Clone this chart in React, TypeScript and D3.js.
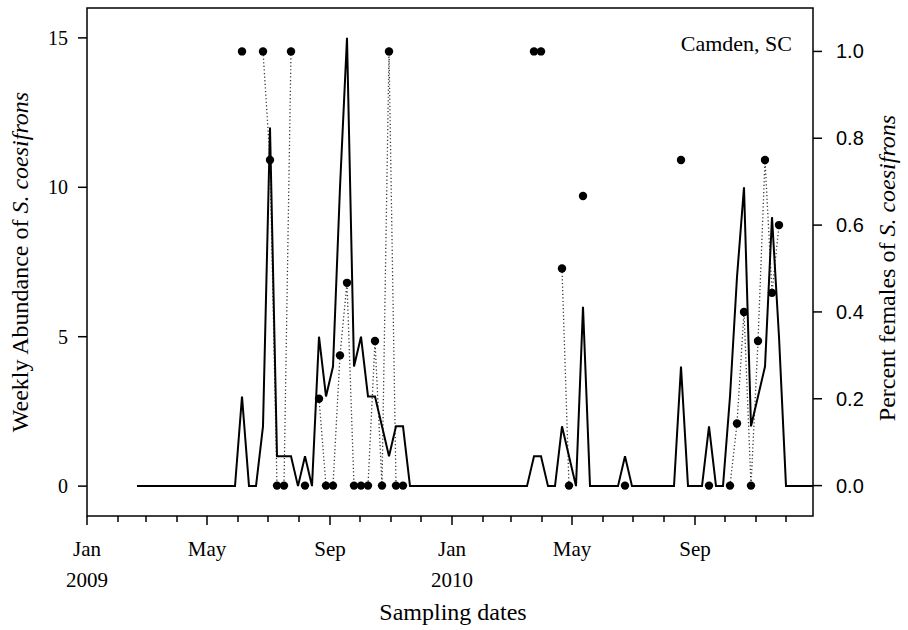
import React from "react";
import * as d3 from "d3";

// ---- Data (weekly samples) ----
const season2009Start = "2009-02-20";
const abundance2009 = [
  0, 0, 0, 0, 0, 0, 0, 0, 0, 0, 0, 0, 0, 0, 0,
  3, 0, 0, 2, 12, 1, 1, 1, 0, 1, 0, 5, 3, 4, 10, 15, 4, 5, 3, 3, 2, 1, 2, 2, 0,
  0, 0, 0, 0, 0, 0,
];
const females2009: (number | null)[] = [
  null, null, null, null, null, null, null, null, null, null, null, null, null, null, null,
  1.0, null, null, 1.0, 0.75, 0, 0, 1.0, null, 0, null, 0.2, 0, 0, 0.3, 0.467, 0, 0, 0, 0.333, 0, 1.0, 0, 0, null,
  null, null, null, null, null, null,
];

const season2010Start = "2010-01-06";
const abundance2010 = [
  0, 0, 0, 0, 0, 0, 0, 0, 0, 0, 0,
  1, 1, 0, 0, 2, 1, 0, 6,
  0, 0, 0, 0, 0,
  1,
  0, 0, 0, 0, 0, 0, 0,
  4, 0, 0, 0, 2, 0, 0,
  3, 7, 10, 2, 3, 4, 9, 5,
  0, 0, 0, 0, 0,
];
const females2010: (number | null)[] = [
  null, null, null, null, null, null, null, null, null, null, null,
  1.0, 1.0, null, null, 0.5, 0, null, 0.667,
  null, null, null, null, null,
  0,
  null, null, null, null, null, null, null,
  0.75, null, null, null, 0, null, null,
  0, 0.143, 0.4, 0, 0.333, 0.75, 0.444, 0.6,
  null, null, null, null, null,
];

const leftTicks = [0, 5, 10, 15];
const rightTicks = [0, 0.2, 0.4, 0.6, 0.8, 1.0];
const majorMonths = [0, 4, 8];

type Sample = { date: Date; abundance: number; female: number | null };

function buildSeason(start: string, ab: number[], fe: (number | null)[]): Sample[] {
  const s = d3.timeParse("%Y-%m-%d")(start) as Date;
  return ab.map((a, i) => ({ date: d3.timeDay.offset(s, 7 * i), abundance: a, female: fe[i] }));
}

const samples: Sample[] = [
  ...buildSeason(season2009Start, abundance2009, females2009),
  ...buildSeason(season2010Start, abundance2010, females2010),
];

export default function App() {
  const W = 908, H = 630;
  const L = 87, R = 813, T = 8, B = 516;
  const x = d3.scaleTime().domain([new Date(2009, 0, 1), new Date(2010, 11, 28)]).range([L, R]);
  const yL = d3.scaleLinear().domain([-1, 16]).range([B, T]);
  const yR = d3.scaleLinear().domain([-0.07, 1.1]).range([B, T]);

  const abLine = d3.line<Sample>().x((d) => x(d.date)).y((d) => yL(d.abundance))(samples) || "";
  const feLine = d3
    .line<Sample>()
    .defined((d) => d.female !== null)
    .x((d) => x(d.date))
    .y((d) => yR(d.female as number))(samples) || "";

  const months = d3.timeMonth.range(new Date(2009, 0, 1), new Date(2010, 11, 29));
  const fmtMonth = d3.timeFormat("%b");
  const serif = "'Liberation Serif', 'Times New Roman', serif";
  const sans = "'Liberation Sans', Arial, sans-serif";

  return (
    <svg width={W} height={H} style={{ position: "absolute", left: 0, top: 0, background: "#fff" }}>
      <defs>
        <clipPath id="plot">
          <rect x={L} y={T} width={R - L} height={B - T} />
        </clipPath>
      </defs>
      <rect x={0} y={0} width={W} height={H} fill="#fff" />
      <g clipPath="url(#plot)">
        <path d={feLine} fill="none" stroke="#333" strokeWidth={1.3} strokeDasharray="1.2 2.4" />
        <path d={abLine} fill="none" stroke="#000" strokeWidth={2} strokeLinejoin="miter" />
        {samples
          .filter((d) => d.female !== null)
          .map((d, i) => (
            <circle key={i} cx={x(d.date)} cy={yR(d.female as number)} r={4.2} fill="#000" />
          ))}
      </g>
      <rect x={L} y={T} width={R - L} height={B - T} fill="none" stroke="#000" strokeWidth={1.5} />

      {/* bottom axis */}
      {months.map((m, i) => {
        const major = majorMonths.includes(m.getMonth());
        const xx = x(m);
        return (
          <g key={i}>
            <line x1={xx} x2={xx} y1={B} y2={B + (major ? 9 : 6)} stroke="#000" strokeWidth={1.5} />
            {major && (
              <text x={xx} y={556} textAnchor="middle" fontFamily={serif} fontSize={21}>
                {fmtMonth(m)}
              </text>
            )}
            {m.getMonth() === 0 && (
              <text x={xx} y={587} textAnchor="middle" fontFamily={serif} fontSize={21}>
                {m.getFullYear()}
              </text>
            )}
          </g>
        );
      })}
      <text x={453} y={620} textAnchor="middle" fontFamily={serif} fontSize={24}>
        Sampling dates
      </text>

      {/* left axis */}
      {leftTicks.map((t) => (
        <g key={t}>
          <line x1={L - 9} x2={L} y1={yL(t)} y2={yL(t)} stroke="#000" strokeWidth={1.5} />
          <text x={L - 19} y={yL(t) + 7} textAnchor="end" fontFamily={serif} fontSize={20}>
            {t}
          </text>
        </g>
      ))}
      <text
        transform={`translate(28, ${(T + B) / 2}) rotate(-90)`}
        textAnchor="middle"
        fontFamily={serif}
        fontSize={24}
      >
        Weekly Abundance of <tspan fontStyle="italic">S. coesifrons</tspan>
      </text>

      {/* right axis */}
      {rightTicks.map((t) => (
        <g key={t}>
          <line x1={R} x2={R + 9} y1={yR(t)} y2={yR(t)} stroke="#000" strokeWidth={1.5} />
          <text x={R + 23} y={yR(t) + 7} textAnchor="start" fontFamily={sans} fontSize={20}>
            {t.toFixed(1)}
          </text>
        </g>
      ))}
      <text
        transform={`translate(895, ${(T + B) / 2 + 6}) rotate(-90)`}
        textAnchor="middle"
        fontFamily={serif}
        fontSize={24}
      >
        Percent females of <tspan fontStyle="italic">S. coesifrons</tspan>
      </text>

      <text x={792} y={51} textAnchor="end" fontFamily={serif} fontSize={22}>
        Camden, SC
      </text>
    </svg>
  );
}
